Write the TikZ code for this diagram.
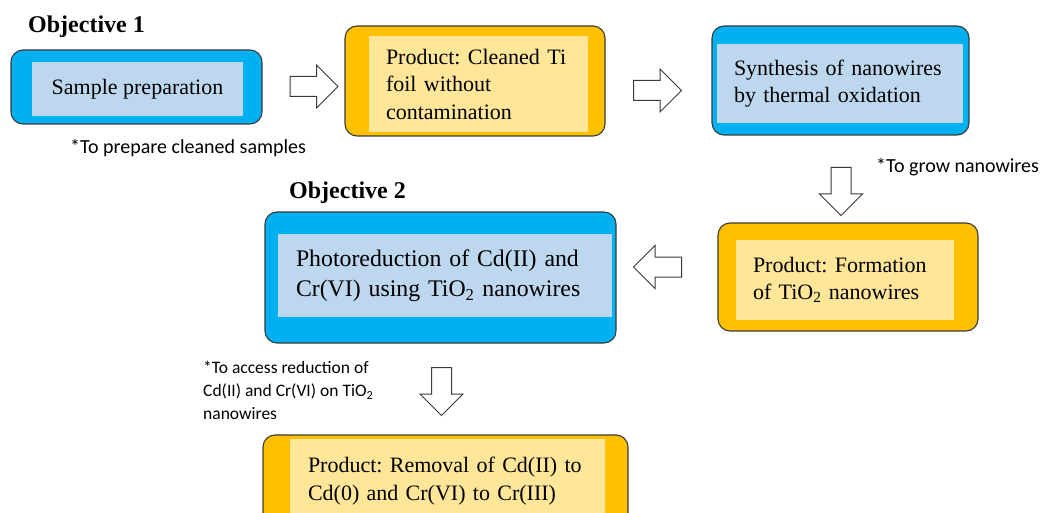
\documentclass[tikz,border=0pt]{standalone}
\usepackage{fontspec}
\setmainfont{Liberation Serif}
\newfontfamily\annfont{Carlito}
\usetikzlibrary{shapes.arrows,positioning}
\definecolor{bluedark}{HTML}{00B0F0}
\definecolor{bluelight}{HTML}{BDD7EE}
\definecolor{orgdark}{HTML}{FFC000}
\definecolor{orglight}{HTML}{FFE699}
\definecolor{edge}{HTML}{3A3A3A}
\frenchspacing
\begin{document}
\begin{tikzpicture}[x=1pt,y=-1pt,
  outerbox/.style={draw=edge,line width=1.1pt,rounded corners=12pt,inner sep=0pt},
  bluebox/.style={outerbox,fill=bluedark},
  orgbox/.style={outerbox,fill=orgdark},
  innerbox/.style={inner sep=0pt,align=left,font=\fontsize{22}{27.5}\selectfont},
  bin/.style={innerbox,fill=bluelight},
  oin/.style={innerbox,fill=orglight},
  blockarrow/.style={single arrow,draw=edge,fill=white,line width=1pt,inner sep=9.5pt,
     minimum height=48pt,single arrow head extend=11.5pt,shape border rotate=0},
  ann/.style={font=\annfont\fontsize{20}{22}\selectfont,inner sep=0pt,anchor=west},
  annsmall/.style={font=\annfont\fontsize{17.5}{23}\selectfont,inner sep=0pt,align=left,anchor=north west},
  objective/.style={font=\bfseries\fontsize{24}{26}\selectfont,inner sep=0pt,anchor=west}
]
\useasboundingbox (0,0) rectangle (1044,513);
\clip (0,0) rectangle (1044,513);

% Objective labels
\node[objective] (obj1) at (28,27) {Objective 1};
\node[objective] (obj2) at (289,193) {Objective 2};

% Box 1
\node[bluebox,minimum width=251pt,minimum height=74pt] (b1) at (136.5,87) {};
\node[bin,minimum width=211pt,minimum height=54pt,align=center] (b1i) at (137.5,89) {Sample preparation};
\node[ann] (n1) at (70,148) {*To prepare cleaned samples};

% Box 2
\node[orgbox,minimum width=260pt,minimum height=110pt] (b2) at (475,81) {};
\node[oin,minimum width=219pt,minimum height=96pt,text width=185pt,inner xsep=17pt] (b2i) at (478.5,84) {Product: Cleaned Ti\\foil without\\contamination};

% Box 3
\node[bluebox,minimum width=257pt,minimum height=109pt] (b3) at (840.5,80.5) {};
\node[bin,minimum width=246pt,minimum height=79pt,text width=212pt,inner xsep=17pt] (b3i) at (840,83.5) {Synthesis of nanowires\\by thermal oxidation};
\node[ann] (n3) at (876,167) {*To grow nanowires};

% Box 4
\node[orgbox,minimum width=260pt,minimum height=108pt] (b4) at (848,277) {};
\node[oin,minimum width=218pt,minimum height=80pt,text width=184pt,inner xsep=17pt] (b4i) at (845,280) {Product: Formation\\of TiO\textsubscript{2} nanowires};

% Box 5
\node[bluebox,minimum width=351pt,minimum height=131pt] (b5) at (440.5,277.5) {};
\node[bin,minimum width=334pt,minimum height=83pt,text width=298pt,inner xsep=18pt,font=\fontsize{23.8}{30}\selectfont] (b5i) at (445,275.5) {Photoreduction of Cd(II) and\\Cr(VI) using TiO\textsubscript{2} nanowires};
\node[annsmall] (n5) at (203,361) {*To access reduction of\\Cd(II) and Cr(VI) on TiO\textsubscript{2}\\nanowires};

% Box 6
\node[orgbox,minimum width=365pt,minimum height=100pt] (b6) at (445.5,485) {};
\node[oin,minimum width=315pt,minimum height=84pt,text width=279pt,inner xsep=18pt] (b6i) at (447.5,481) {Product: Removal of Cd(II) to\\Cd(0) and Cr(VI) to Cr(III)};

% Block arrows (connectors)
\node[blockarrow] (a1) at (309,86.5) {};
\node[blockarrow] (a2) at (652.5,90.5) {};
\node[blockarrow,shape border rotate=270] (a3) at (841,186.5) {};
\node[blockarrow,shape border rotate=180] (a4) at (662.5,267) {};
\node[blockarrow,shape border rotate=270] (a5) at (441.5,386.5) {};
\end{tikzpicture}
\end{document}
